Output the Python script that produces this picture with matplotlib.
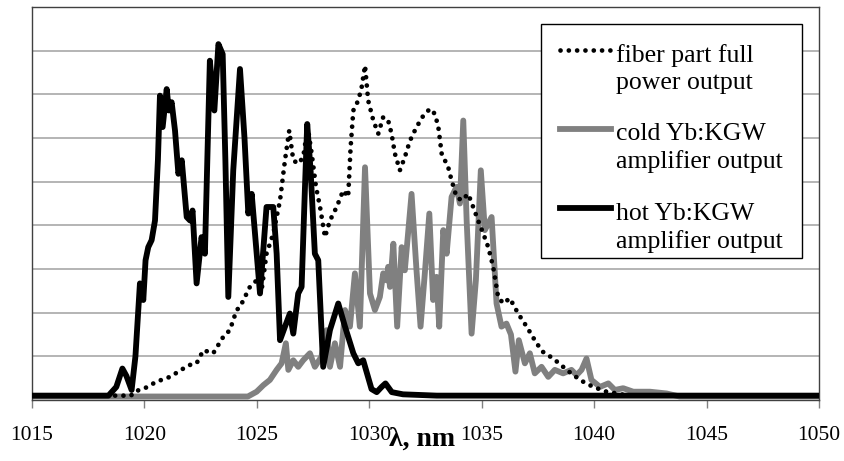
import matplotlib
matplotlib.use('Agg')
import matplotlib.pyplot as plt
import numpy as np
from matplotlib.lines import Line2D
from matplotlib.patches import Rectangle
from matplotlib.legend_handler import HandlerLine2D

# ── Data (λ in nm, arbitrary intensity) ─────────────────────────────────────

fiber_wl = [1015.0, 1019.4, 1019.6, 1020.02, 1020.54, 1021.14, 1021.73, 1022.0,
            1022.32, 1022.62, 1023.06, 1023.51, 1023.80, 1024.10, 1024.25, 1024.69,
            1024.99, 1025.21, 1025.43, 1025.73, 1026.03, 1026.25, 1026.44, 1026.62,
            1026.84, 1027.06, 1027.26, 1027.44, 1027.63, 1027.81, 1028.03, 1028.25,
            1028.55, 1028.84, 1029.06, 1029.17, 1029.29, 1029.51, 1029.66, 1029.81,
            1029.95, 1030.18, 1030.40, 1030.62, 1030.84, 1030.99, 1031.14, 1031.36,
            1031.58, 1031.81, 1032.10, 1032.40, 1032.70, 1032.92, 1033.07, 1033.22,
            1033.51, 1033.66, 1033.88, 1034.11, 1034.40, 1034.62, 1034.84, 1035.07,
            1035.29, 1035.51, 1035.73, 1035.96, 1036.25, 1036.62, 1037.0, 1037.44,
            1037.73, 1038.18, 1038.62, 1039.07, 1039.51, 1039.96, 1040.55, 1041.0,
            1041.5, 1050.0]
fiber_val = [0.10, 0.10, 0.20, 0.27, 0.42, 0.53, 0.72, 0.80,
             0.84, 1.14, 1.07, 1.45, 1.60, 2.06, 2.13, 2.59,
             2.74, 2.51, 3.35, 3.81, 4.57, 5.49, 6.17, 5.49,
             5.41, 5.56, 6.25, 5.64, 4.88, 4.42, 3.73, 4.11,
             4.42, 4.80, 4.65, 5.79, 6.63, 6.86, 7.16, 7.66,
             6.86, 6.40, 6.10, 6.48, 6.40, 6.10, 5.64, 5.26,
             5.56, 5.94, 6.25, 6.51, 6.67, 6.55, 6.25, 5.64,
             5.33, 5.03, 4.65, 4.57, 4.72, 4.42, 4.11, 3.81,
             3.50, 3.05, 2.36, 2.21, 2.33, 1.98, 1.68, 1.30,
             1.10, 0.95, 0.76, 0.57, 0.42, 0.30, 0.19, 0.15,
             0.10, 0.10]

cold_wl = [1015.0, 1024.6, 1024.99, 1025.29, 1025.58, 1025.88, 1026.10, 1026.29,
           1026.40, 1026.62, 1026.84, 1027.06, 1027.36, 1027.58, 1027.87, 1028.10,
           1028.25, 1028.47, 1028.70, 1028.92, 1029.14, 1029.36, 1029.58, 1029.81,
           1030.03, 1030.25, 1030.47, 1030.62, 1030.77, 1030.84, 1030.92, 1031.07,
           1031.24, 1031.44, 1031.58, 1031.88, 1032.10, 1032.28, 1032.47, 1032.67,
           1032.84, 1032.99, 1033.11, 1033.29, 1033.44, 1033.66, 1033.88, 1034.03,
           1034.18, 1034.33, 1034.55, 1034.74, 1034.96, 1035.14, 1035.44, 1035.66,
           1035.88, 1036.10, 1036.30, 1036.50, 1036.65, 1036.92, 1037.14, 1037.36,
           1037.66, 1037.96, 1038.25, 1038.62, 1038.99, 1039.22, 1039.44, 1039.66,
           1039.88, 1040.26, 1040.63, 1040.92, 1041.29, 1041.74, 1042.48, 1043.22,
           1043.8, 1050.0]
cold_val = [0.08, 0.08, 0.19, 0.34, 0.46, 0.69, 0.84, 1.30,
            0.69, 0.91, 0.76, 0.91, 1.07, 0.76, 0.99, 1.60,
            0.76, 1.30, 0.76, 2.06, 1.68, 2.90, 1.68, 5.33,
            2.44, 2.06, 2.36, 2.90, 2.74, 3.05, 2.59, 3.58,
            1.68, 3.50, 2.97, 4.72, 2.97, 1.68, 2.90, 4.27,
            2.29, 2.82, 1.68, 3.89, 3.35, 4.65, 4.88, 4.50,
            6.40, 4.11, 1.52, 2.74, 5.26, 3.89, 4.19, 2.21,
            1.68, 1.75, 1.50, 0.65, 1.37, 0.84, 1.07, 0.61,
            0.76, 0.53, 0.69, 0.61, 0.69, 0.57, 0.69, 0.95,
            0.46, 0.30, 0.38, 0.23, 0.27, 0.19, 0.19, 0.15,
            0.08, 0.08]

hot_wl = [1015.0, 1018.4, 1018.75, 1019.02, 1019.2, 1019.43, 1019.6, 1019.80,
          1019.95, 1020.05, 1020.17, 1020.32, 1020.47, 1020.6, 1020.69, 1020.81,
          1020.99, 1021.09, 1021.21, 1021.36, 1021.51, 1021.66, 1021.88, 1022.03,
          1022.14, 1022.32, 1022.54, 1022.69, 1022.91, 1023.11, 1023.29, 1023.48,
          1023.6, 1023.73, 1023.95, 1024.25, 1024.45, 1024.62, 1024.77, 1025.14,
          1025.43, 1025.73, 1025.88, 1026.03, 1026.25, 1026.47, 1026.62, 1026.84,
          1026.99, 1027.14, 1027.24, 1027.39, 1027.58, 1027.73, 1027.95, 1028.25,
          1028.62, 1028.92, 1029.29, 1029.51, 1029.73, 1030.1, 1030.33, 1030.55,
          1030.72, 1031.0, 1031.5, 1033.0, 1050.0]
hot_val = [0.10, 0.10, 0.30, 0.72, 0.55, 0.23, 1.00, 2.67,
           2.29, 3.20, 3.50, 3.66, 4.11, 5.50, 6.97, 6.25,
           7.12, 6.63, 6.82, 6.17, 5.18, 5.49, 4.19, 4.11,
           4.34, 2.67, 3.73, 3.35, 7.77, 6.63, 8.15, 7.92,
           5.50, 2.36, 5.26, 7.58, 6.00, 4.27, 4.72, 2.44,
           4.42, 4.42, 3.35, 1.37, 1.68, 1.98, 1.52, 2.44,
           2.59, 4.88, 6.32, 5.26, 3.35, 3.20, 0.76, 1.60,
           2.21, 1.68, 1.07, 0.84, 0.91, 0.25, 0.18, 0.30,
           0.38, 0.18, 0.13, 0.10, 0.10]

labels = ['fiber part full\npower output',
          'cold Yb:KGW\namplifier output',
          'hot Yb:KGW\namplifier output']
xticks = [1015, 1020, 1025, 1030, 1035, 1040, 1045, 1050]


class FirstLineHandler(HandlerLine2D):
    """Put the legend line next to the first text line, not the middle."""
    def create_artists(self, legend, orig_handle, xdescent, ydescent,
                       width, height, fontsize, trans):
        arts = super().create_artists(legend, orig_handle, xdescent, ydescent,
                                      width, height, fontsize, trans)
        for a in arts:
            a.set_ydata(np.asarray(a.get_ydata()) + 0.73 * fontsize)
        return arts


plt.rcParams['font.family'] = ['Liberation Serif', 'DejaVu Serif']

fig = plt.figure(figsize=(8.45, 4.61), dpi=100)
ax = fig.add_axes([32 / 845, 1 - 400 / 461, 787 / 845, 393 / 461])

for y in range(1, 9):
    ax.axhline(y, color='#a0a0a0', lw=1.1, zorder=1)

l_fiber, = ax.plot(fiber_wl, fiber_val, color='black', lw=3.4,
                   linestyle=(0, (0.01, 1.75)), dash_capstyle='round', zorder=4)
l_cold, = ax.plot(cold_wl, cold_val, color='#808080', lw=4.2,
                  solid_joinstyle='round', zorder=2)
l_hot, = ax.plot(hot_wl, hot_val, color='black', lw=4.2,
                 solid_joinstyle='round', zorder=3)

ax.set_xlim(1015, 1050)
ax.set_ylim(0, 9)
ax.set_yticks([])
ax.set_xticks(xticks)
ax.tick_params(axis='x', direction='out', length=5.8, width=1, color='#808080',
               labelsize=15.5, pad=13)
for s in ax.spines.values():
    s.set_color('#404040')
    s.set_linewidth(1)

ax.set_xlabel('λ, nm', fontsize=20, fontweight='bold')
ax.xaxis.label.set_va('baseline')
ax.xaxis.set_label_coords(0.496, -0.115)

# legend box drawn separately (Excel style: tight at the bottom)
ax.add_patch(Rectangle((0.6468, 0.3613), 0.3316, 0.5954, transform=ax.transAxes,
                       facecolor='white', edgecolor='black', lw=1, zorder=4.6))

leg = ax.legend([l_fiber, l_cold, l_hot], labels, loc='upper right',
                bbox_to_anchor=(0.954, 0.905), fontsize=18.5, frameon=False,
                handlelength=2.0, handletextpad=0.2, labelspacing=1.14,
                borderpad=0, borderaxespad=0,
                handler_map={Line2D: FirstLineHandler()})
for t in leg.get_texts():
    t.set_linespacing(1.28)

fig.savefig('out.png', dpi=100)
